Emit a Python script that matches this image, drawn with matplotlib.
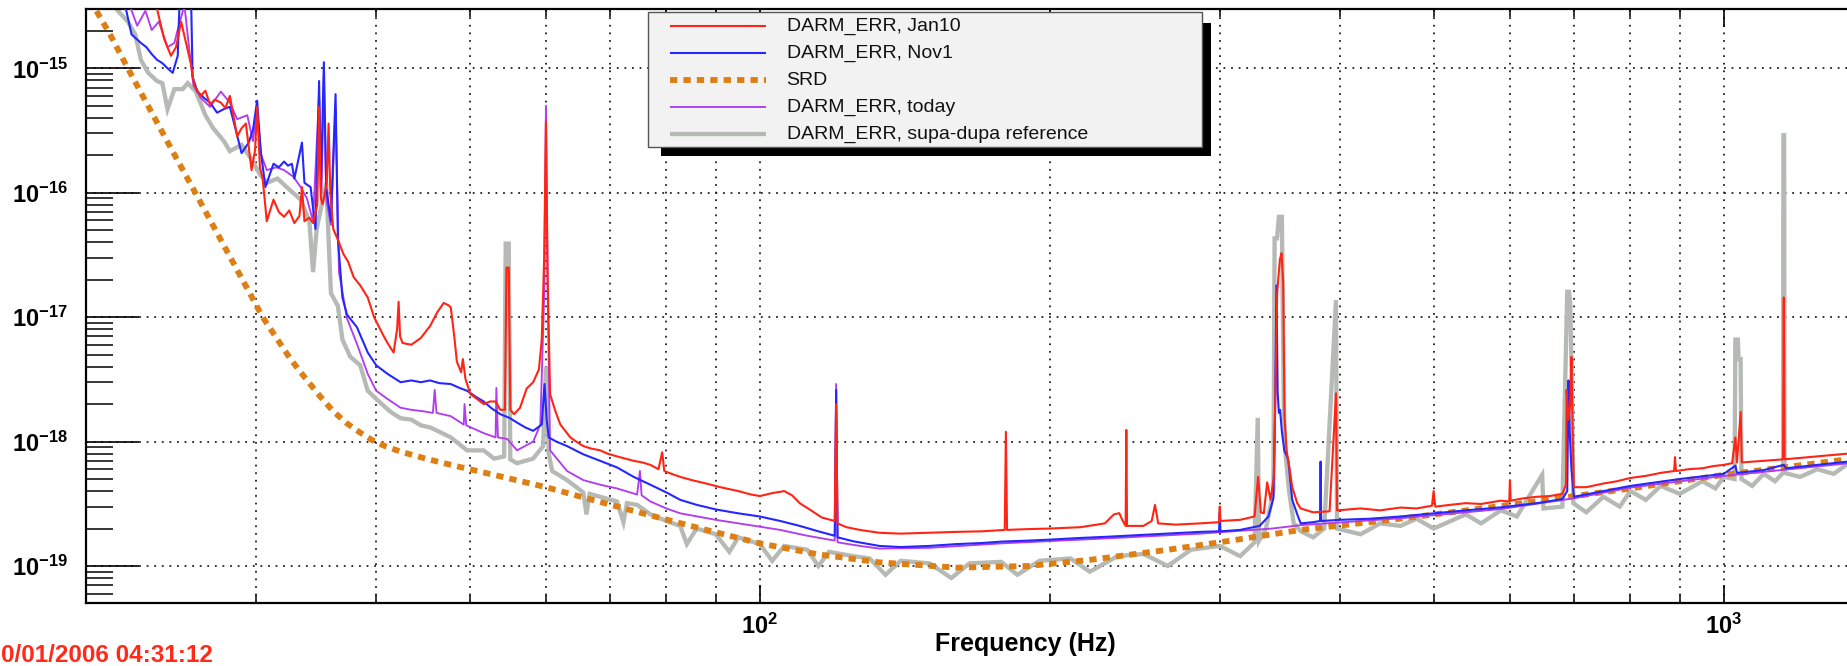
import matplotlib
matplotlib.use("Agg")
import numpy as np
import matplotlib.pyplot as plt
from matplotlib.lines import Line2D
from matplotlib.patches import Rectangle
from matplotlib.ticker import FixedLocator, LogLocator, NullFormatter

plt.rcParams['font.family'] = ['Liberation Sans', 'DejaVu Sans']
plt.rcParams['mathtext.fontset'] = 'custom'
plt.rcParams['mathtext.rm'] = 'Liberation Sans'
plt.rcParams['mathtext.bf'] = 'Liberation Sans:bold'

# ---------------- spectra (frequency in Hz, amplitude spectral density) ----------------
red_f = [20.0, 23.0, 23.7, 24.1, 24.5, 24.8, 25.1, 25.4, 25.7, 25.9, 26.3, 26.6, 26.9, 27.2, 27.6,
         27.9, 28.2, 28.7, 29.0, 29.3, 29.7, 29.95, 30.1, 30.3, 30.5, 30.8, 31.3, 31.7, 32.1, 32.5,
         32.9, 33.3, 33.5, 33.7, 34.1, 34.4, 34.75, 34.9, 35.05, 35.2, 35.55, 35.7, 35.85, 36.1,
         36.5, 37.0, 37.4, 37.9, 38.5, 39.2, 39.8, 40.7, 41.2, 41.7, 42.05, 42.2, 42.35, 42.6,
         43.5, 44.5, 45.5, 46.3, 47.0, 47.5, 47.8, 48.2, 48.5, 49.0, 49.2, 49.5, 50.1, 50.9,
         51.7, 52.5, 53.2, 53.8, 54.4, 54.6, 54.9, 55.1, 55.6, 56.4, 57.3, 58.2, 59.0, 59.4,
         59.75, 60.0, 60.25, 60.6, 61.3, 62.1, 63.6, 64.5, 65.6, 66.8, 68.3, 69.5, 71.1, 72.5,
         74.0, 75.5, 77.0, 78.5, 79.2, 79.6, 81.0, 82.7, 85.0, 88.0, 91.0, 95.0, 98.0, 100.0,
         103.0, 106.0, 108.0, 110.0, 113.0, 116.0, 119.6, 120.0, 120.4, 123.0, 127.0, 133.0,
         140.0, 150.0, 160.0, 170.0, 179.5, 180.0, 180.5, 190.0, 200.0, 215.0, 228.0, 233.0,
         236.0, 238.0, 239.6, 240.0, 240.4, 250.0, 255.0, 257.0, 259.0, 270.0, 286.0, 299.5,
         300.0, 300.5, 315.0, 326.0, 328.8, 331.0, 333.3, 336.0, 338.7, 341.4, 342.8, 344.1,
         346.3, 347.7, 349.1, 350.2, 351.9, 354.2, 356.7, 361.0, 364.0, 375.0, 390.0, 396.0,
         397.0, 420.0, 440.0, 462.0, 480.0, 498.0, 500.0, 502.0, 520.0, 540.0, 560.0, 587.0,
         599.0, 600.0, 601.0, 620.0, 640.0, 660.0, 680.0, 686.0, 687.0, 690.0, 693.0, 695.0,
         697.0, 699.0, 720.0, 750.0, 775.0, 800.0, 830.0, 860.0, 888.0, 890.0, 892.0, 920.0,
         950.0, 975.0, 1000.0, 1020.0, 1028.0, 1032.0, 1041.0, 1044.0, 1100.0, 1152.0, 1154.0,
         1156.0, 1250.0, 1344.0, 1400.0]
red_v = [6e-15, 4.5e-15, 3.0e-15, 1.73e-15, 1.26e-15, 1.48e-15, 2.37e-15, 1.6e-15, 1.08e-15, 7.3e-16,
         6.0e-16, 6.6e-16, 5.1e-16, 5.6e-16, 5.3e-16, 4.8e-16, 6.0e-16, 2.84e-16, 3.3e-16, 3.6e-16,
         1.52e-16, 2.2e-16, 4.9e-16, 1.6e-16, 1.3e-16, 5.9e-17, 8.8e-17, 7.0e-17, 6.4e-17, 7.2e-17,
         5.7e-17, 6.5e-17, 1.11e-16, 5.9e-17, 6.3e-17, 5.7e-17, 8e-17, 4.9e-16, 9e-17, 8.1e-17,
         1.2e-16, 3.6e-16, 1.0e-16, 5.1e-17, 4.2e-17, 3.2e-17, 2.8e-17, 2.1e-17, 1.8e-17, 1.44e-17,
         1.0e-17, 7.1e-18, 6.0e-18, 5.2e-18, 8e-18, 1.33e-17, 7e-18, 6.2e-18, 6.0e-18, 6.8e-18,
         8.5e-18, 1.1e-17, 1.3e-17, 1.25e-17, 1.2e-17, 7e-18, 4.4e-18, 3.6e-18, 4.6e-18, 3.2e-18,
         2.4e-18, 2.2e-18, 2.0e-18, 2.1e-18, 2.1e-18, 1.8e-18, 1.8e-18, 2.5e-17, 2.5e-17, 1.8e-18,
         1.66e-18, 1.87e-18, 2.67e-18, 3.0e-18, 3.8e-18, 6.6e-18, 3e-17, 3.75e-16, 2e-17, 2.4e-18,
         1.8e-18, 1.37e-18, 1.08e-18, 1.0e-18, 9.2e-19, 8.8e-19, 8.5e-19, 8.0e-19, 7.6e-19, 7.3e-19,
         7.0e-19, 6.8e-19, 6.5e-19, 6.0e-19, 8.2e-19, 5.8e-19, 5.5e-19, 5.2e-19, 4.9e-19, 4.6e-19,
         4.3e-19, 4.0e-19, 3.75e-19, 3.65e-19, 3.85e-19, 4.0e-19, 3.7e-19, 3.2e-19, 2.8e-19, 2.45e-19,
         2.3e-19, 2.0e-18, 2.2e-19, 2.05e-19, 1.95e-19, 1.85e-19, 1.82e-19, 1.85e-19, 1.88e-19, 1.9e-19,
         1.95e-19, 1.2e-18, 1.95e-19, 1.98e-19, 2.0e-19, 2.05e-19, 2.2e-19, 2.6e-19, 2.66e-19, 2.3e-19,
         2.1e-19, 1.24e-18, 2.1e-19, 2.1e-19, 2.3e-19, 3.1e-19, 2.2e-19, 2.15e-19, 2.2e-19, 2.25e-19,
         3.0e-19, 2.3e-19, 2.35e-19, 2.5e-19, 5.2e-19, 2.7e-19, 2.65e-19, 4.7e-19, 3.4e-19, 5.2e-19,
         2.9e-18, 1.55e-17, 2.9e-17, 3.26e-17, 1.87e-17, 1.58e-18, 8.5e-19, 6.3e-19, 4.3e-19, 3.2e-19,
         2.9e-19, 2.7e-19, 2.75e-19, 2.44e-18, 2.8e-19, 2.9e-19, 2.8e-19, 2.95e-19, 2.9e-19, 3.05e-19,
         4.0e-19, 3.0e-19, 3.1e-19, 3.2e-19, 3.15e-19, 3.35e-19, 3.3e-19, 4.9e-19, 3.35e-19, 3.5e-19,
         3.6e-19, 3.65e-19, 3.8e-19, 4.5e-19, 2.6e-18, 1.5e-18, 2.0e-18, 4.8e-18, 1.2e-18, 4.3e-19,
         4.3e-19, 4.6e-19, 4.8e-19, 5.1e-19, 5.3e-19, 5.6e-19, 5.8e-19, 7.5e-19, 5.8e-19, 6.0e-19,
         6.1e-19, 6.35e-19, 6.5e-19, 6.7e-19, 1.08e-18, 6.8e-19, 1.73e-18, 6.8e-19, 7.0e-19, 7.2e-19,
         1.44e-17, 7.2e-19, 7.6e-19, 8.0e-19, 8.2e-19]

blue_f = [20.0, 22.0, 22.3, 22.8, 23.1, 23.4, 23.7, 24.0, 24.3, 24.6, 24.9, 25.05, 25.3, 25.5, 25.7,
          25.8, 26.1, 26.5, 26.9, 27.35, 27.8, 28.2, 28.6, 29.0, 29.5, 29.8, 30.1, 30.35, 30.7,
          31.3, 31.7, 32.1, 32.4, 32.7, 32.9, 33.5, 33.7, 34.2, 34.6, 34.9, 35.05, 35.3, 35.5,
          35.9, 36.3, 36.5, 36.9, 37.3, 38.2, 39.2, 40.0, 41.1, 42.4, 43.5, 44.5, 45.5, 46.5,
          47.8, 48.8, 49.7, 50.7, 51.7, 52.7, 53.8, 55.0, 56.0, 57.1, 58.2, 59.4, 59.8, 60.1,
          60.4, 61.5, 63.1, 65.6, 68.3, 71.1, 74.0, 77.0, 80.0, 82.7, 86.0, 90.0, 95.0, 100.0,
          105.0, 110.0, 115.0, 119.6, 120.0, 120.4, 125.0, 133.0, 140.0, 150.0, 160.0, 170.0,
          178.0, 190.0, 200.0, 215.0, 230.0, 250.0, 270.0, 286.0, 299.5, 300.0, 300.5, 315.0,
          330.0, 337.0, 341.0, 342.3, 343.5, 344.5, 345.5, 346.5, 348.0, 350.0, 352.5, 353.5,
          356.7, 361.0, 364.0, 375.0, 381.2, 381.7, 382.2, 400.0, 430.0, 462.0, 500.0, 540.0,
          587.0, 640.0, 680.0, 688.0, 690.0, 692.0, 695.0, 699.0, 750.0, 800.0, 850.0, 900.0,
          950.0, 1000.0, 1028.0, 1032.0, 1100.0, 1154.0, 1160.0, 1250.0, 1344.0, 1400.0]
blue_v = [6e-15, 3.0e-15, 1.87e-15, 1.6e-15, 1.48e-15, 1.3e-15, 1.17e-15, 1.1e-15, 1.0e-15, 9.2e-16,
          1.26e-15, 5e-15, 4e-15, 5e-15, 4e-15, 8.5e-16, 6.5e-16, 5.8e-16, 5.3e-16, 4.4e-16,
          4.7e-16, 4.9e-16, 3.2e-16, 2.08e-16, 2.53e-16, 3.2e-16, 5.5e-16, 2.2e-16, 1.11e-16,
          1.71e-16, 1.6e-16, 1.78e-16, 1.65e-16, 1.71e-16, 1.3e-16, 2.53e-16, 1.2e-16, 1.11e-16,
          5.1e-17, 7.9e-16, 1.1e-16, 1.12e-15, 1.1e-16, 5.9e-17, 6.2e-16, 4.3e-17, 1.44e-17,
          1.05e-17, 8.3e-18, 5.2e-18, 4.1e-18, 3.5e-18, 3.0e-18, 3.1e-18, 3.0e-18, 3.1e-18,
          2.95e-18, 2.9e-18, 2.7e-18, 2.56e-18, 2.3e-18, 2.1e-18, 1.85e-18, 1.66e-18, 1.55e-18,
          1.42e-18, 1.3e-18, 1.22e-18, 1.37e-18, 2.9e-18, 1.5e-18, 1.08e-18, 1.0e-18, 9.2e-19,
          7.9e-19, 7.0e-19, 6.2e-19, 5.2e-19, 4.5e-19, 3.9e-19, 3.4e-19, 3.1e-19, 2.85e-19,
          2.65e-19, 2.5e-19, 2.3e-19, 2.1e-19, 1.9e-19, 1.75e-19, 2.6e-18, 1.7e-19, 1.58e-19,
          1.45e-19, 1.42e-19, 1.45e-19, 1.5e-19, 1.53e-19, 1.57e-19, 1.6e-19, 1.63e-19, 1.68e-19,
          1.72e-19, 1.78e-19, 1.84e-19, 1.88e-19, 1.9e-19, 2.7e-19, 1.9e-19, 1.95e-19, 2.1e-19,
          2.5e-19, 3.5e-19, 1.5e-18, 1.8e-17, 2.5e-18, 1.7e-18, 1.8e-18, 1.2e-18, 8.5e-19,
          7.5e-19, 6.9e-19, 3.4e-19, 2.6e-19, 2.2e-19, 2.25e-19, 2.3e-19, 6.9e-19, 2.3e-19,
          2.35e-19, 2.4e-19, 2.5e-19, 2.65e-19, 2.8e-19, 2.96e-19, 3.2e-19, 3.45e-19, 4e-19,
          3.1e-18, 1.2e-18, 6e-19, 3.6e-19, 4.0e-19, 4.4e-19, 4.7e-19, 5.0e-19, 5.25e-19,
          5.5e-19, 6.4e-19, 5.6e-19, 5.9e-19, 6.5e-19, 6.1e-19, 6.5e-19, 6.9e-19, 7.1e-19]

purple_f = [20.0, 22.2, 22.6, 23.05, 23.4, 23.8, 24.3, 24.7, 24.96, 25.3, 25.6, 25.85, 26.3, 26.9,
            27.6, 28.2, 28.7, 29.4, 29.8, 30.1, 30.4, 30.8, 31.5, 32.1, 32.8, 33.4, 33.9, 34.4,
            34.9, 35.1, 35.3, 35.5, 35.9, 36.3, 36.6, 37.3, 38.2, 39.2, 40.0, 41.1, 42.4, 43.5,
            44.8, 45.8, 46.0, 46.2, 47.8, 49.3, 49.4, 49.6, 51.7, 53.2, 53.3, 53.5, 54.7, 56.0,
            58.2, 59.2, 59.75, 60.0, 60.25, 60.6, 63.1, 65.6, 68.3, 71.1, 74.6, 75.1, 75.4, 77.0,
            80.0, 82.7, 90.0, 100.0, 105.0, 112.0, 119.6, 120.0, 120.4, 127.0, 133.0, 150.0,
            178.0, 230.0, 286.0, 340.0, 364.0, 462.0, 587.0, 699.0, 800.0, 1000.0, 1400.0]
purple_v = [6e-15, 3.2e-15, 2.2e-15, 2.9e-15, 2.03e-15, 2.37e-15, 1.48e-15, 1.6e-15, 2.2e-15, 3.2e-15,
            1.4e-15, 7.3e-16, 5.8e-16, 4.9e-16, 6.5e-16, 5.3e-16, 3.9e-16, 4.2e-16, 2.6e-16, 4.5e-16,
            2.0e-16, 1.52e-16, 1.6e-16, 1.52e-16, 1.35e-16, 1.11e-16, 9.0e-17, 5.9e-17, 6.2e-16,
            1.0e-16, 8.5e-16, 9e-17, 5.5e-17, 4.9e-16, 2.3e-17, 9.8e-18, 6.1e-18, 3.5e-18, 2.56e-18,
            2.2e-18, 1.87e-18, 1.8e-18, 1.75e-18, 1.7e-18, 2.6e-18, 1.7e-18, 1.6e-18, 1.37e-18,
            2.0e-18, 1.35e-18, 1.17e-18, 1.08e-18, 2.7e-18, 1.08e-18, 1.05e-18, 8.5e-19, 1.0e-18,
            1.37e-18, 1.5e-17, 5.0e-16, 1.5e-17, 8.5e-19, 5.8e-19, 4.9e-19, 4.5e-19, 4.2e-19,
            3.75e-19, 5.8e-19, 3.7e-19, 3.3e-19, 2.9e-19, 2.65e-19, 2.35e-19, 2.07e-19, 1.95e-19,
            1.75e-19, 1.6e-19, 2.9e-18, 1.55e-19, 1.45e-19, 1.38e-19, 1.4e-19, 1.52e-19, 1.67e-19,
            1.82e-19, 2.0e-19, 2.13e-19, 2.42e-19, 2.87e-19, 3.5e-19, 4.27e-19, 5.3e-19, 6.9e-19]

gray_f = [20.0, 21.5, 22.1, 22.5, 22.8, 23.2, 23.7, 24.0, 24.3, 24.7, 25.2, 25.5, 26.0, 26.6, 27.1,
          27.8, 28.2, 29.0, 29.8, 30.3, 30.8, 31.6, 32.3, 33.4, 34.1, 34.4, 34.7, 35.5, 35.9,
          36.5, 36.9, 37.6, 38.5, 39.2, 40.0, 41.4, 42.4, 43.5, 44.5, 45.5, 46.5, 47.8, 49.7,
          51.7, 53.0, 54.3, 54.5, 54.9, 55.1, 56.0, 58.2, 59.6, 60.0, 60.4, 60.9, 63.1, 65.6,
          66.1, 66.6, 68.3, 71.1, 72.2, 72.8, 74.6, 77.0, 80.0, 82.7, 84.0, 86.0, 90.0, 93.0,
          95.0, 100.0, 103.0, 106.0, 112.0, 115.0, 118.0, 125.0, 130.0, 135.0, 140.0, 150.0,
          158.0, 165.0, 178.0, 185.0, 195.0, 210.0, 220.0, 235.0, 250.0, 265.0, 280.0, 300.0,
          315.0, 326.0, 328.5, 329.5, 335.0, 341.0, 342.0, 344.0, 345.5, 348.0, 349.5, 351.0,
          354.0, 358.0, 364.0, 375.0, 385.0, 396.0, 397.0, 420.0, 440.0, 462.0, 480.0, 500.0,
          540.0, 560.0, 587.0, 610.0, 648.0, 650.0, 680.0, 688.0, 691.0, 693.0, 695.0, 698.0,
          720.0, 750.0, 780.0, 800.0, 830.0, 860.0, 900.0, 950.0, 980.0, 1000.0, 1026.0, 1028.0,
          1034.0, 1036.0, 1041.0, 1043.0, 1070.0, 1100.0, 1130.0, 1152.0, 1153.0, 1155.0, 1156.0,
          1200.0, 1250.0, 1300.0, 1344.0, 1400.0]
gray_v = [6e-15, 3.0e-15, 2.37e-15, 1.87e-15, 1.17e-15, 9.2e-16, 7.9e-16, 7.6e-16, 4.7e-16, 6.8e-16,
          6.8e-16, 7.6e-16, 6.5e-16, 4.2e-16, 3.3e-16, 2.6e-16, 2.16e-16, 2.43e-16, 1.78e-16, 1.4e-16,
          1.2e-16, 1.3e-16, 1.11e-16, 8.8e-17, 5.9e-17, 2.3e-17, 5.1e-17, 1.2e-16, 1.56e-17, 1.23e-17,
          6.6e-18, 4.8e-18, 4.1e-18, 2.56e-18, 2.2e-18, 1.73e-18, 1.54e-18, 1.5e-18, 1.35e-18,
          1.3e-18, 1.2e-18, 1.08e-18, 8.5e-19, 8.5e-19, 7.3e-19, 7.6e-19, 3.9e-17, 3.9e-17, 7.2e-19,
          6.7e-19, 7.3e-19, 9.2e-19, 4e-18, 8e-19, 5.8e-19, 4.9e-19, 3.9e-19, 2.6e-19, 3.8e-19,
          3.6e-19, 3.3e-19, 2.25e-19, 3.2e-19, 3.1e-19, 2.6e-19, 2.3e-19, 2.1e-19, 1.5e-19, 2.0e-19,
          1.8e-19, 1.3e-19, 1.7e-19, 1.5e-19, 1.1e-19, 1.45e-19, 1.35e-19, 1.0e-19, 1.3e-19,
          1.2e-19, 1.15e-19, 8.5e-20, 1.1e-19, 1.05e-19, 8.0e-20, 1.05e-19, 1.08e-19, 8.5e-20,
          1.1e-19, 1.15e-19, 9.0e-20, 1.2e-19, 1.25e-19, 1.0e-19, 1.35e-19, 1.45e-19, 1.2e-19,
          1.55e-19, 1.55e-18, 1.6e-19, 2.0e-19, 4e-19, 4.3e-17, 4.3e-17, 6.4e-17, 6.4e-17, 2e-18,
          8e-19, 4e-19, 2.2e-19, 1.9e-19, 1.7e-19, 2.0e-19, 1.37e-17, 2.0e-19, 1.8e-19, 2.2e-19,
          2.1e-19, 2.4e-19, 2.0e-19, 2.6e-19, 2.2e-19, 2.8e-19, 2.5e-19, 5.4e-19, 2.9e-19, 3.0e-19,
          1.6e-17, 1.6e-17, 1.3e-17, 4e-18, 3.2e-19, 2.7e-19, 3.6e-19, 3.0e-19, 4.0e-19, 3.4e-19,
          4.4e-19, 3.8e-19, 4.8e-19, 4.2e-19, 5.2e-19, 5e-19, 6.6e-18, 6.6e-18, 4.6e-18, 4.6e-18,
          5e-19, 4.4e-19, 5.5e-19, 4.8e-19, 5.6e-19, 2.9e-16, 2.9e-16, 5.6e-19, 5.2e-19, 6.0e-19,
          5.5e-19, 6.6e-19, 6.4e-19]

srd_f = [20.0, 20.5, 21.2, 22.1, 23.4, 24.6, 26.2, 28.0, 29.3, 30.5, 31.6, 32.6, 33.7, 35.0, 36.1,
         37.3, 38.5, 39.6, 40.7, 42.4, 45.0, 47.8, 53.0, 60.0, 68.0, 77.0, 88.0, 100.0, 115.0,
         133.0, 160.0, 190.0, 220.0, 265.0, 300.0, 364.0, 462.0, 600.0, 800.0, 1000.0, 1400.0, 2000.0]
srd_v = [4.3e-15, 2.9e-15, 1.85e-15, 1.0e-15, 4.4e-16, 2.15e-16, 8.8e-17, 3.4e-17, 1.78e-17, 1.0e-17,
         6.6e-18, 4.6e-18, 3.3e-18, 2.3e-18, 1.75e-18, 1.4e-18, 1.18e-18, 1.03e-18, 9.3e-19, 8.3e-19,
         7.3e-19, 6.5e-19, 5.4e-19, 4.3e-19, 3.3e-19, 2.55e-19, 1.95e-19, 1.52e-19, 1.24e-19,
         1.07e-19, 9.7e-20, 1.0e-19, 1.12e-19, 1.35e-19, 1.55e-19, 1.95e-19, 2.4e-19, 3.1e-19,
         4.2e-19, 5.4e-19, 7.5e-19, 1.07e-18]

labels = ['DARM_ERR, Jan10', 'DARM_ERR, Nov1', 'SRD', 'DARM_ERR, today',
          'DARM_ERR, supa-dupa reference']
y_ticks = [1e-19, 1e-18, 1e-17, 1e-16, 1e-15]
y_tick_labels = [r'$\mathbf{10^{-19}}$', r'$\mathbf{10^{-18}}$', r'$\mathbf{10^{-17}}$',
                 r'$\mathbf{10^{-16}}$', r'$\mathbf{10^{-15}}$']
x_ticks = [100, 1000]
x_tick_labels = [r'$\mathbf{10^{2}}$', r'$\mathbf{10^{3}}$']
x_label = 'Frequency (Hz)'
stamp = '0/01/2006 04:31:12'

# ---------------- styles ----------------
C_RED, C_BLUE, C_PURPLE, C_GRAY, C_SRD = '#ff2414', '#2626ff', '#b23cf0', '#b6bab4', '#dd7f12'
styles = {
    'red': dict(color=C_RED, lw=1.5, zorder=6),
    'blue': dict(color=C_BLUE, lw=1.5, zorder=5),
    'srd': dict(color=C_SRD, lw=4.2, dashes=(1.25, 1.05), zorder=3),
    'purple': dict(color=C_PURPLE, lw=1.35, zorder=4),
    'gray': dict(color=C_GRAY, lw=3.1, zorder=2),
}

W, H = 1847, 666
fig = plt.figure(figsize=(W / 100, H / 100), dpi=100)
fig.patch.set_facecolor('white')

# axes frame in pixels: left 86, top 9.3, bottom 602.7; it runs past the right edge
ax = fig.add_axes([86 / W, 1 - 602.7 / H, 1928 / W, (602.7 - 9.3) / H])
ax.set_xscale('log')
ax.set_yscale('log')

ax.plot(gray_f, gray_v, solid_joinstyle='miter', **styles['gray'])
ax.plot(srd_f, srd_v, solid_capstyle='butt', dash_capstyle='butt', **styles['srd'])
ax.plot(purple_f, purple_v, **styles['purple'])
ax.plot(blue_f, blue_v, **styles['blue'])
ax.plot(red_f, red_v, **styles['red'])

ax.set_xlim(20, 2000)
ax.set_ylim(5.07e-20, 2.98e-15)

ax.yaxis.set_major_locator(FixedLocator(y_ticks))
ax.set_yticklabels(y_tick_labels)
ax.yaxis.set_minor_locator(LogLocator(base=10, subs=np.arange(2, 10), numticks=30))
ax.yaxis.set_minor_formatter(NullFormatter())
ax.xaxis.set_major_locator(FixedLocator(x_ticks))
ax.set_xticklabels(x_tick_labels)
ax.xaxis.set_minor_locator(LogLocator(base=10, subs=np.arange(2, 10), numticks=30))
ax.xaxis.set_minor_formatter(NullFormatter())

ax.yaxis.set_tick_params(which='major', direction='in', length=38, width=1.2, labelsize=17, pad=13)
ax.yaxis.set_tick_params(which='minor', direction='in', length=19.5, width=1.1)
ax.xaxis.set_tick_params(which='major', direction='in', length=13, width=1.2, labelsize=17, pad=8,
                         top=True, bottom=True)
ax.xaxis.set_tick_params(which='minor', direction='in', length=5.5, width=1.1, top=True, bottom=True)
ax.tick_params(axis='y', right=False)

ax.set_axisbelow(True)
grid_kw = dict(color='#222222', lw=1.3, linestyle=(0, (1, 3.2)))
ax.grid(True, which='major', axis='y', **grid_kw)
ax.grid(True, which='both', axis='x', **grid_kw)
for s in ax.spines.values():
    s.set_linewidth(1.6)
    s.set_color('black')

# ---------------- legend box with drop shadow ----------------
def fx(x):
    return x / W


def fy(y):
    return 1 - y / H


fig.add_artist(Rectangle((fx(661), fy(156)), (1211 - 661) / W, (156 - 23) / H,
                         transform=fig.transFigure, facecolor='black', edgecolor='none', zorder=5))
fig.add_artist(Rectangle((fx(648), fy(146.6)), (1202 - 648) / W, (146.6 - 11.5) / H,
                         transform=fig.transFigure, facecolor='#f2f2f2', edgecolor='#555555',
                         lw=1.0, zorder=6))
legend_keys = ['red', 'blue', 'srd', 'purple', 'gray']
for i, (key, lab) in enumerate(zip(legend_keys, labels)):
    yy = 25.6 + 27.0 * i
    st = dict(styles[key])
    st['zorder'] = 7
    fig.add_artist(Line2D([fx(670), fx(766)], [fy(yy), fy(yy)], transform=fig.transFigure,
                          solid_capstyle='butt', dash_capstyle='butt', **st))
    fig.text(fx(786.6), fy(yy + 1), lab, fontsize=14, color='#111111', ha='left', va='center',
             zorder=7)

# ---------------- axis title and time stamp ----------------
fig.text(fx(1025), fy(644), x_label, fontsize=18, fontweight='bold', ha='center', va='center')
fig.text(fx(1), fy(656), stamp, fontsize=17.5, fontweight='bold', color='#ff2a1a',
         ha='left', va='center')

fig.savefig('out.png', dpi=100, facecolor='white')
